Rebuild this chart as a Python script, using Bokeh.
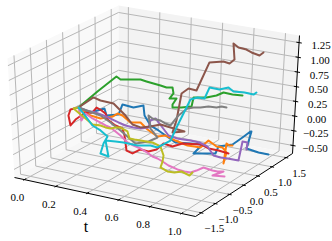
from bokeh.plotting import figure
from bokeh.models import Range1d
from bokeh.core.properties import value
from bokeh.embed import file_html
from bokeh.resources import INLINE

# ---- data -------------------------------------------------------------
t = [0.00,0.04,0.08,0.12,0.16,0.20,0.24,0.28,0.32,0.36,0.40,0.44,0.48,
     0.52,0.56,0.60,0.64,0.68,0.72,0.76,0.80,0.84,0.88,0.92,0.96,1.00]

blue_x = [0,.2,.472,.324,.525,.444,.609,.739,.556,.546,.606,.736,.761,1.07,1.271,.732,.933,1.063,.951,1.222,1.352,1.412,1.225,.831,1.032,1.162]
blue_z = [0,-.126,-.125,-.172,-.198,.022,-.059,-.046,-.132,-.276,-.356,-.494,-.564,-.658,-.719,-.672,-.714,-.734,-.555,-.587,-.487,-.382,-.299,-.435,-.546,-.598]

orange_x = [0,-.011,-.021,.113,.313,.268,.222,.282,.415,.44,.57,.63,.761,.789,.743,.768,.757,.817,.88,.87,.789,.461,.31,.127,.011,-.106]
orange_z = [0,-.041,-.083,-.154,-.163,-.074,-.069,-.185,-.205,-.309,-.447,-.425,-.531,-.567,-.564,-.565,-.555,-.434,-.532,-.524,-.558,-.615,-.323,-.121,-.095,-.033]

green_x = [0,.447,.894,.817,.947,1.077,1.067,1.092,1.12,1.109,1.099,.912,.549,.577,.215,-.007,-.088,-.134,0,-.151,-.127,-.137,-.007,.021,.116,.246]
green_z = [0,.149,.28,.278,.258,.239,.233,.213,.193,.185,.212,.195,.25,.265,.303,.348,.398,.435,.432,.656,.672,.699,.713,.778,.735,.7]

red_x = [0,-.504,-.796,-.944,-.989,-.859,-.835,-.915,-.958,-1.039,-1.19,-1.13,-1.106,-1.254,-1.405,-1.415,-1.356,-1.296,-1.232,-1.208,-1.113,-.982,-.535,-.507,-.377,-.246]
red_z = [0,.154,.169,.072,.21,.31,.326,.459,.446,.443,.414,.317,.28,.233,.05,.027,.099,.067,.104,.22,.162,.194,.054,.001,-.054,-.123]

purple_x = [0,.06,.155,.218,.243,.303,.327,.387,.415,.475,.324,.278,.303,.296,.391,.38,.405,.5,.563,.553,.577,.602,.768,.69,.644,.387]
purple_z = [0,-.047,-.089,-.137,-.174,-.237,-.273,-.304,-.306,-.287,-.095,-.023,-.161,-.271,-.331,-.32,-.322,-.364,-.429,-.556,-.574,-.576,-.641,-.27,-.25,-.262]

brown_x = [0,.306,.331,.57,.771,.796,.856,.986,1.12,1.25,1.521,.877,.796,.754,.778,.838,1.074,1.345,1.338,1.292,1.035,.989,1.049,1.007,1.067,.986]
brown_z = [0,.094,.057,-.048,-.295,-.432,-.478,-.482,-.468,-.539,-.671,-.455,-.203,.292,.391,.361,.783,.734,.726,.831,1.209,1.18,1.148,1.135,1.087,1.188]

pink_x = [0,-.116,-.197,-.169,-.109,-.155,-.201,-.07,-.042,-.053,-.028,.032,-.049,-.092,-.137,-.148,-.053,-.028,-.035,-.046,-.021,.074,.028,.021,-.588,-.387]
pink_z = [0,-.159,.008,-.062,-.127,-.139,-.135,-.291,-.395,-.42,-.455,-.536,-.538,-.535,-.548,-.589,-.664,-.684,-.675,-.616,-.549,-.607,-.587,-.561,-.409,-.467]

gray_x = [0,.165,.331,.465,.595,.655,.68,.704,.697,.792,.324,.032,-.049,.014,-.032,-.077,-.158,-.239,-.282,-.363,-.373,-.349,-.289,-.225,-.271,-.317]
gray_z = [0,-.098,-.197,-.336,-.492,-.606,-.692,-.661,-.618,-.559,-.231,.108,.106,.075,.061,.066,.201,.334,.439,.538,.583,.598,.618,.604,.658,.679]

olive_x = [0,-.398,-.408,-.415,-.391,-.331,-.377,-.423,-.465,-.511,-.486,-.637,-.683,-.69,-.701,-.711,-.792,-.873,-.986,-1.243,-1.535,-1.511,-1.486,-1.458,-1.398,-1.514]
olive_z = [0,.136,.077,.018,-.069,-.082,-.077,-.057,-.003,.034,-.018,-.064,-.044,-.035,-.026,-.016,0,.015,-.077,-.074,-.056,-.108,-.111,-.08,-.145,-.033]

cyan_x = [0,-.046,.049,.113,.137,-.225,-.553,-.493,-.817,-.687,-.627,-.356,-.12,-.092,.144,.169,.405,.43,.458,.412,.542,.637,.592,.761,.856,.739]
cyan_z = [0,-.063,-.275,-.357,-.445,-.422,-.461,-.509,-.109,-.146,-.159,-.274,-.329,-.348,-.284,-.014,.373,.421,.419,.642,.59,.616,.585,.537,.494,.59]

series = [("#1f77b4", blue_x, blue_z), ("#ff7f0e", orange_x, orange_z),
          ("#2ca02c", green_x, green_z), ("#d62728", red_x, red_z),
          ("#9467bd", purple_x, purple_z), ("#8c564b", brown_x, brown_z),
          ("#e377c2", pink_x, pink_z), ("#7f7f7f", gray_x, gray_z),
          ("#bcbd22", olive_x, olive_z), ("#17becf", cyan_x, cyan_z)]

t_ticks = [0.0, 0.2, 0.4, 0.6, 0.8, 1.0]
t_labels = ["0.0", "0.2", "0.4", "0.6", "0.8", "1.0"]
x_ticks = [-1.5, -1.0, -0.5, 0.0, 0.5, 1.0, 1.5]
x_labels = ["\u22121.5", "\u22121.0", "\u22120.5", "0.0", "0.5", "1.0", "1.5"]
z_ticks = [-0.5, -0.25, 0.0, 0.25, 0.5, 0.75, 1.0, 1.25]
z_labels = ["\u22120.50", "\u22120.25", "0.00", "0.25", "0.50", "0.75", "1.00", "1.25"]
t_lim = (-0.063, 1.089)
x_lim = (-1.70, 1.725)
z_lim = (-0.636, 1.371)

# ---- view: box corners on the drawing plane and the trace projection ----
A, B, C, D = (14, 177), (195, 216), (292, 153), (118, 121)
At, Dt, Ct = (7, 58), (118, 5), (299, 35)

def project(tv, xv, zv):
    return 78 + 157 * tv + 28.4 * xv, 107 + 34 * tv - 19.2 * xv - 59 * zv

def bil(c00, c10, c01, c11, a, b):
    return tuple((1-a)*(1-b)*c00[k] + a*(1-b)*c10[k] + (1-a)*b*c01[k] + a*b*c11[k] for k in (0, 1))

def frac(v, lim):
    return (v - lim[0]) / (lim[1] - lim[0])

left = lambda a, b: bil(A, D, At, Dt, a, b)    # a: x, b: z
back = lambda a, b: bil(D, C, Dt, Ct, a, b)    # a: t, b: z
floor = lambda a, b: bil(A, B, D, C, a, b)     # a: t, b: x

p = figure(width=332, height=241, x_range=Range1d(0, 332), y_range=Range1d(241, 0),
           x_axis_type=None, y_axis_type=None, toolbar_location=None,
           output_backend="svg", min_border=0, outline_line_color=None)
p.grid.visible = False

def poly(fn, color):
    pts = [fn(0, 0), fn(1, 0), fn(1, 1), fn(0, 1)]
    p.patch([q[0] for q in pts], [q[1] for q in pts], fill_color=color, line_color=None)

poly(left, "#f9f9f9")
poly(back, "#f3f3f3")
poly(floor, "#f6f6f6")

GRID = "#b7b7b7"
def seg(a, b, color=GRID, w=1.0):
    p.line([a[0], b[0]], [a[1], b[1]], line_color=color, line_width=w)

for v in x_ticks:
    s = frac(v, x_lim)
    seg(left(s, 0), left(s, 1))
    seg(floor(0, s), floor(1, s))
for v in t_ticks:
    s = frac(v, t_lim)
    seg(back(s, 0), back(s, 1))
    seg(floor(s, 0), floor(s, 1))
for v in z_ticks:
    s = frac(v, z_lim)
    seg(left(0, s), left(1, s))
    seg(back(0, s), back(1, s))

for col, xs, zs in series:
    pts = [project(a, b, c) for a, b, c in zip(t, xs, zs)]
    p.line([q[0] for q in pts], [q[1] for q in pts], line_color=col, line_width=2.0,
           line_join="round", line_cap="round")

# axes
seg(A, B, "#000000", 1.0)
seg(B, C, "#000000", 1.0)
seg(C, Ct, "#000000", 1.0)

for v in t_ticks:
    s = frac(v, t_lim)
    seg(floor(s, -0.012), floor(s, 0.018), "#000000", 1.0)
for v in x_ticks:
    s = frac(v, x_lim)
    seg(floor(0.99, s), floor(1.012, s), "#000000", 1.0)
for v in z_ticks:
    s = frac(v, z_lim)
    seg(back(0.985, s), back(1.015, s), "#000000", 1.0)

FONT = value("Liberation Serif")
def labels(px, py, txt, dx, dy, size="11px"):
    p.text(x=px, y=py, text=txt, x_offset=dx, y_offset=dy, text_font=FONT,
           text_font_size=size, text_color="#000000", text_align="center", text_baseline="middle")

q = [floor(frac(v, t_lim), 0) for v in t_ticks]
labels([a[0] for a in q], [a[1] for a in q], t_labels, -7, 18)
q = [floor(1, frac(v, x_lim)) for v in x_ticks]
labels([a[0] for a in q], [a[1] for a in q], x_labels, 13, 16)
q = [back(1, frac(v, z_lim)) for v in z_ticks]
labels([a[0] for a in q], [a[1] for a in q], z_labels, 22, 3)

tm = floor(frac(0.5, t_lim), 0)
labels([tm[0]], [tm[1]], ["t"], -17, 30, "16px")

open("out.html", "w").write(file_html(p, INLINE))
